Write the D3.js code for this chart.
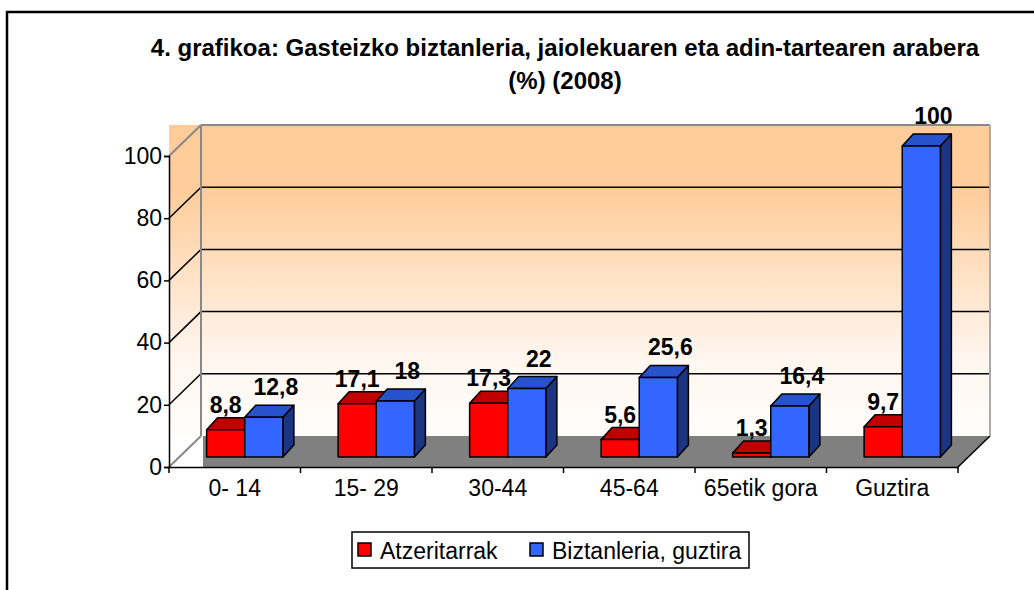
<!DOCTYPE html>
<html lang="en">
    <head>
        <meta charset="utf-8">
        <title>Gasteizko biztanleria</title>
        <script src="https://d3js.org/d3.v7.min.js"></script>
        <style>
            body { margin: 0; background: #fff; }
            text { font-family: Arial, "Liberation Sans", sans-serif; fill: #000; }
        </style>
    </head>
    <body>
        <div id="dataviz"></div>
        <script>
            // data
            var categories = ["0- 14", "15- 29", "30-44", "45-64", "65etik gora", "Guztira"];
            var seriesNames = ["Atzeritarrak", "Biztanleria, guztira"];
            var atzeritarrak = [8.8, 17.1, 17.3, 5.6, 1.3, 9.7];
            var biztanleria = [12.8, 18, 22, 25.6, 16.4, 100];
            var yTicks = [0, 20, 40, 60, 80, 100];

            var W = 1034, H = 590;
            var depth = {x: 32, y: -31};      // floor / wall depth
            var barShift = {x: 10, y: -10};   // where the bars stand on the floor
            var barDepth = {x: 11, y: -12};

            var colors = [
                {front: "#ff0000", top: "#c00000", side: "#800000"},
                {front: "#3366ff", top: "#2652cc", side: "#1c3582"}
            ];

            var svg = d3.select("#dataviz")
                        .append("svg")
                        .attr("width", W)
                        .attr("height", H);

            var defs = svg.append("defs");
            var grad = defs.append("linearGradient")
                .attr("id", "wallGrad")
                .attr("x1", 0).attr("y1", 0).attr("x2", 0).attr("y2", 1);
            grad.append("stop").attr("offset", "0%").attr("stop-color", "#ffcc99");
            grad.append("stop").attr("offset", "22%").attr("stop-color", "#ffcd9c");
            grad.append("stop").attr("offset", "75%").attr("stop-color", "#fff6ef");
            grad.append("stop").attr("offset", "100%").attr("stop-color", "#fffdfb");

            var x = d3.scaleBand()
                        .domain(categories)
                        .range([169, 958]);

            var y = d3.scaleLinear()
                        .domain([0, 100])
                        .range([467, 156]);

            var barW = x.bandwidth() * 0.29;
            var groupOffset = (x.bandwidth() - 2 * barW) / 2;

            // outer frame
            svg.append("rect")
                .attr("x", 7).attr("y", 12)
                .attr("width", W + 20).attr("height", H + 20)
                .attr("fill", "none")
                .attr("stroke", "#000")
                .attr("stroke-width", 2.5);

            // title
            var title = svg.append("text")
                .attr("x", 565).attr("y", 56)
                .attr("text-anchor", "middle")
                .style("font-size", "24px")
                .style("font-weight", "bold");
            title.append("tspan").attr("x", 565).attr("dy", 0)
                .text("4. grafikoa: Gasteizko biztanleria, jaiolekuaren eta adin-tartearen arabera");
            title.append("tspan").attr("x", 565).attr("dy", 33)
                .text("(%) (2008)");

            var x0 = x.range()[0], x1 = x.range()[1];
            var yTop = y(100), yBase = y(0);

            // walls background
            svg.append("rect")
                .attr("x", x0).attr("y", yTop + depth.y)
                .attr("width", x1 + depth.x - x0)
                .attr("height", yBase - yTop)
                .attr("fill", "url(#wallGrad)");

            // floor
            svg.append("polygon")
                .attr("points", [
                    [x0 + depth.x + 2, yBase + depth.y],
                    [x1 + depth.x, yBase + depth.y],
                    [x1, yBase],
                    [x0 + depth.x + 2, yBase]
                ].join(" "))
                .attr("fill", "#808080");
            svg.append("line")
                .attr("x1", x1 + depth.x).attr("y1", yBase + depth.y)
                .attr("x2", x1).attr("y2", yBase)
                .attr("stroke", "#000").attr("stroke-width", 1.5);

            // gridlines on side and back wall
            yTicks.forEach(function(t) {
                var yy = y(t);
                var edge = (t === 0 || t === 100);
                svg.append("polyline")
                    .attr("points", [[x0, yy], [x0 + depth.x, yy + depth.y], [edge ? x0 + depth.x : x1 + depth.x, yy + depth.y]].join(" "))
                    .attr("fill", "none")
                    .attr("stroke", edge ? "#888" : "#000")
                    .attr("stroke-width", edge ? 2 : 1.5);
            });
            // wall border lines
            svg.append("line")
                .attr("x1", x0 + depth.x).attr("y1", yTop + depth.y)
                .attr("x2", x1 + depth.x).attr("y2", yTop + depth.y)
                .attr("stroke", "#888").attr("stroke-width", 2);
            svg.append("line")
                .attr("x1", x0 + depth.x).attr("y1", yTop + depth.y)
                .attr("x2", x0 + depth.x).attr("y2", yBase + depth.y)
                .attr("stroke", "#888").attr("stroke-width", 2);
            svg.append("line")
                .attr("x1", x1 + depth.x).attr("y1", yTop + depth.y)
                .attr("x2", x1 + depth.x).attr("y2", yBase + depth.y)
                .attr("stroke", "#aaa").attr("stroke-width", 2);

            // axes
            var yAxis = d3.axisLeft(y).tickValues(yTicks).tickSize(5).tickPadding(2);
            var gy = svg.append("g")
                .attr("transform", "translate(" + x0 + ",0)")
                .call(yAxis);
            gy.select(".domain").attr("stroke", "#000").attr("stroke-width", 1.5);
            gy.selectAll(".tick line").attr("stroke", "#000").attr("stroke-width", 1.5);
            gy.selectAll(".tick text").style("font-size", "23px").attr("fill", "#000");

            var xAxis = d3.axisBottom(x).tickSize(0).tickPadding(24);
            var gx = svg.append("g")
                .attr("transform", "translate(0," + yBase + ")")
                .call(xAxis);
            gx.select(".domain").attr("stroke", "#000").attr("stroke-width", 1.5);
            gx.selectAll(".tick text").style("font-size", "23px").attr("fill", "#000").attr("dy", "0.2em");
            // category boundary ticks
            gx.selectAll("line.sep")
                .data(categories.concat(["_end"]))
                .enter()
                .append("line")
                .attr("class", "sep")
                .attr("x1", function(d, i) { return x0 + i * x.step(); })
                .attr("x2", function(d, i) { return x0 + i * x.step(); })
                .attr("y1", 0).attr("y2", 6)
                .attr("stroke", "#000").attr("stroke-width", 1.5);

            // bars
            var seriesData = [atzeritarrak, biztanleria];
            var bars = [];
            seriesData.forEach(function(vals, s) {
                vals.forEach(function(v, i) {
                    bars.push({cat: categories[i], s: s, v: v});
                });
            });

            function barGeom(d) {
                var bx = x(d.cat) + groupOffset + barShift.x + d.s * barW;
                var by0 = y(0) + barShift.y;
                var by1 = y(d.v) + barShift.y;
                return {x: bx, y0: by0, y1: by1};
            }

            var barG = svg.append("g");
            var groups = barG.selectAll("g.bar")
                .data(bars)
                .enter()
                .append("g")
                .attr("class", "bar")
                .attr("stroke", "#000")
                .attr("stroke-width", 1.5)
                .attr("stroke-linejoin", "round");

            groups.append("polygon") // side
                .attr("points", function(d) {
                    var g = barGeom(d);
                    return [[g.x + barW, g.y0], [g.x + barW + barDepth.x, g.y0 + barDepth.y],
                            [g.x + barW + barDepth.x, g.y1 + barDepth.y], [g.x + barW, g.y1]].join(" ");
                })
                .attr("fill", function(d) { return colors[d.s].side; });
            groups.append("polygon") // top
                .attr("points", function(d) {
                    var g = barGeom(d);
                    return [[g.x, g.y1], [g.x + barDepth.x, g.y1 + barDepth.y],
                            [g.x + barW + barDepth.x, g.y1 + barDepth.y], [g.x + barW, g.y1]].join(" ");
                })
                .attr("fill", function(d) { return colors[d.s].top; });
            groups.append("rect") // front
                .attr("x", function(d) { return barGeom(d).x; })
                .attr("y", function(d) { return barGeom(d).y1; })
                .attr("width", barW)
                .attr("height", function(d) { var g = barGeom(d); return g.y0 - g.y1; })
                .attr("fill", function(d) { return colors[d.s].front; });

            // value labels
            svg.append("g").selectAll("text")
                .data(bars)
                .enter()
                .append("text")
                .attr("x", function(d) { return barGeom(d).x + barW / 2 + (d.s ? 12 : 0); })
                .attr("y", function(d) { return barGeom(d).y1 - (d.s ? 22 : 17); })
                .attr("text-anchor", "middle")
                .style("font-size", "23px")
                .style("font-weight", "bold")
                .text(function(d) { return String(d.v).replace(".", ","); });

            // legend
            var legend = svg.append("g");
            legend.append("rect")
                .attr("x", 352).attr("y", 532)
                .attr("width", 397).attr("height", 36)
                .attr("fill", "#fff")
                .attr("stroke", "#000").attr("stroke-width", 1.5);
            var legendX = [358, 530];
            seriesNames.forEach(function(name, s) {
                legend.append("rect")
                    .attr("x", legendX[s]).attr("y", 543)
                    .attr("width", 13).attr("height", 13)
                    .attr("fill", colors[s].front)
                    .attr("stroke", "#000").attr("stroke-width", 1.5);
                legend.append("text")
                    .attr("x", legendX[s] + 22).attr("y", 559)
                    .style("font-size", "23px")
                    .text(name);
            });
        </script>
    </body>
</html>
